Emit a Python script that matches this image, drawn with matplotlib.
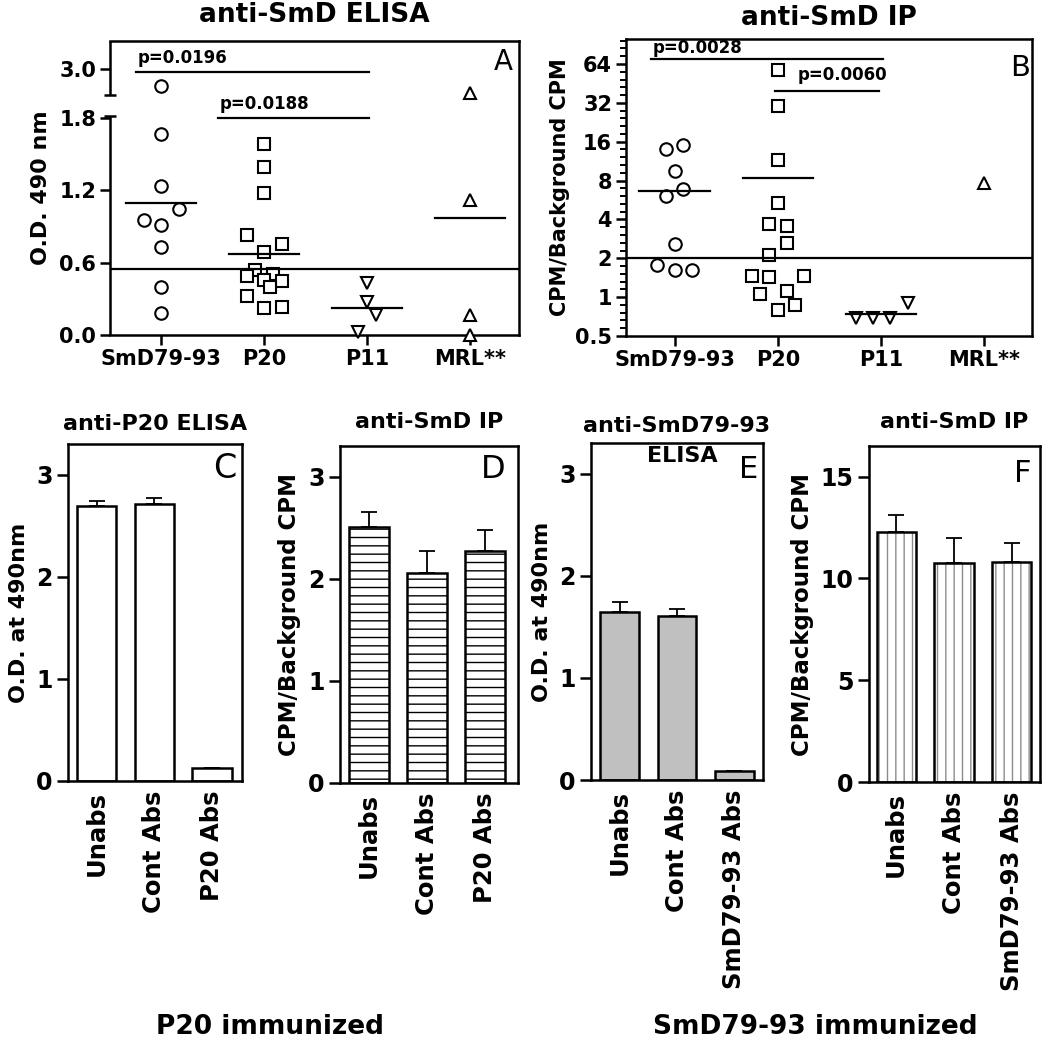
import numpy as np
import matplotlib
matplotlib.use('Agg')
import matplotlib.pyplot as plt
from matplotlib.ticker import FixedLocator, NullFormatter, FixedFormatter

plt.rcParams['font.family'] = ['DejaVu Sans']
plt.rcParams['font.weight'] = 'bold'
plt.rcParams['axes.titleweight'] = 'bold'
plt.rcParams['axes.labelweight'] = 'bold'
plt.rcParams['axes.linewidth'] = 1.8
plt.rcParams['hatch.linewidth'] = 1.0

# ---------------- data ----------------
groups = ['SmD79-93', 'P20', 'P11', 'MRL**']

# Panel A: anti-SmD ELISA (O.D. 490 nm)
elisa_smd = [2.70, 1.66, 1.234, 1.041, 0.953, 0.911, 0.726, 0.40, 0.18]
elisa_p20 = [1.582, 1.394, 1.174, 0.824, 0.751, 0.690, 0.541, 0.508, 0.486,
             0.456, 0.450, 0.398, 0.321, 0.221, 0.234]
elisa_p11 = [0.428, 0.276, 0.166, 0.028]
elisa_mrl = [2.574, 1.118, 0.166, 0.0]
elisa_cutoff = 0.544
elisa_pvals = ['p=0.0196', 'p=0.0188']
elisa_pbar_y = [2.95, 1.80]

# Panel B: anti-SmD IP (CPM/background CPM)
ip_smd = [14.1, 15.2, 9.5, 6.9, 6.1, 2.57, 1.77, 1.61, 1.61]
ip_p20 = [57.9, 30.4, 11.6, 5.4, 3.68, 3.53, 2.62, 2.11, 1.47, 1.42, 1.47,
          1.06, 1.12, 0.87, 0.80]
ip_p11 = [0.686, 0.686, 0.686, 0.896]
ip_mrl = [7.7]
ip_cutoff = 2.0
ip_pvals = ['p=0.0028', 'p=0.0060']
ip_pbar_y = [70.5, 39.8]

# Panels C-F
cond_p20 = ['Unabs', 'Cont Abs', 'P20 Abs']
cond_smd = ['Unabs', 'Cont Abs', 'SmD79-93 Abs']
c_vals = [2.69, 2.71, 0.13]
c_err = [0.055, 0.06, 0.0]
d_vals = [2.51, 2.06, 2.27]
d_err = [0.14, 0.21, 0.21]
e_vals = [1.643, 1.604, 0.091]
e_err = [0.104, 0.068, 0.0]
f_vals = [12.30, 10.77, 10.81]
f_err = [0.80, 1.23, 0.92]

# ---------------- layout helpers ----------------
W, H = 1050, 1039
fig = plt.figure(figsize=(W / 100, H / 100), dpi=100)


def rect(l, t, r, b):
    return [l / W, 1 - b / H, (r - l) / W, (b - t) / H]


# jitter offsets (in marker steps) for the column scatters
STEP = 0.17
jit_a = [[0, 0, 0, 1, -1, 0, 0, 0, 0],
         [0, 0, 0, -1, 1, 0, -0.5, 0.5, -1, 0, 1, 0.33, -1, 0, 1],
         [0, 0, 0.5, -0.5],
         [0, 0, 0, 0]]
jit_b = [[-0.5, 0.5, 0, 0.5, -0.5, 0, -1, 0, 1],
         [0, 0, 0, 0, -0.5, 0.5, 0.5, -0.5, -1.5, -0.5, 1.5, -1, 0.5, 1, 0],
         [-1.45, -0.48, 0.48, 1.5],
         [0]]
markers = ['o', 's', 'v', '^']
msizes = [9, 8.5, 8.5, 8.5]
MEAN_HW = 0.34
TICKFS = 15


def scatter_panel(ax, data, jit, cutoff, draw_mean):
    for i, (vals, off) in enumerate(zip(data, jit)):
        x = (i + 1) + np.array(off) * STEP
        ax.plot(x, vals, linestyle='none', marker=markers[i], ms=msizes[i],
                mfc='white', mec='black', mew=1.5, clip_on=False, zorder=3)
        if draw_mean[i]:
            m = np.mean(vals)
            ax.plot([i + 1 - MEAN_HW, i + 1 + MEAN_HW], [m, m], color='black',
                    lw=1.6, zorder=4)
    ax.axhline(cutoff, color='black', lw=1.6, zorder=4)
    ax.set_xticks(range(1, 5))
    ax.set_xticklabels(groups, fontsize=TICKFS)
    ax.tick_params(axis='both', length=7, width=1.8, labelsize=TICKFS, pad=3)


# ---------------- Panel A ----------------
axA = fig.add_axes(rect(110, 41, 519, 335))
lo_top, hi_bot, gap, hi_ratio = 1.81, 2.523, 0.174, 0.4606
xp = [-10.0, lo_top, hi_bot, 10.0]
dp = [-10.0, lo_top, lo_top + gap, lo_top + gap + (10.0 - hi_bot) * hi_ratio]


def fwd(y):
    return np.interp(y, xp, dp)


def inv(d):
    return np.interp(d, dp, xp)


axA.set_yscale('function', functions=(fwd, inv))
axA.set_ylim(0, 3.5)
axA.set_xlim(0.5, 4.48)
scatter_panel(axA, [elisa_smd, elisa_p20, elisa_p11, elisa_mrl], jit_a,
              elisa_cutoff, [True, True, True, True])
axA.yaxis.set_major_locator(FixedLocator([0.0, 0.6, 1.2, 1.8, 3.0]))
axA.yaxis.set_major_formatter(FixedFormatter(['0.0', '0.6', '1.2', '1.8', '3.0']))
axA.yaxis.set_minor_locator(FixedLocator([]))
axA.spines['left'].set_visible(False)
tr = axA.get_yaxis_transform()
axA.plot([0, 0], [0, lo_top], transform=tr, color='black', lw=1.8,
         clip_on=False, solid_capstyle='butt')
axA.plot([0, 0], [hi_bot, 3.5], transform=tr, color='black', lw=1.8,
         clip_on=False, solid_capstyle='butt')
axA.plot([0, 0], [lo_top, hi_bot], transform=tr, linestyle='none', marker='_',
         ms=8, mew=1.8, color='black', clip_on=False)
# significance bars
for (x0, x1, lx), y, txt in zip([(0.75, 3.02, 0.77), (1.55, 3.02, 1.57)],
                                elisa_pbar_y, elisa_pvals):
    axA.plot([x0, x1], [y, y], color='black', lw=1.6)
    axA.annotate(txt, (lx, y), xytext=(0, 3), textcoords='offset points',
                 ha='left', va='bottom', fontsize=12)
axA.set_ylabel('O.D. 490 nm', fontsize=16, labelpad=6)
axA.set_title('anti-SmD ELISA', fontsize=19, pad=14)
axA.text(0.985, 0.975, 'A', transform=axA.transAxes, ha='right', va='top',
         fontsize=20, fontweight='normal')

# ---------------- Panel B ----------------
axB = fig.add_axes(rect(626, 39, 1032, 336))
axB.set_yscale('log', base=2)
axB.set_ylim(0.5, 100)
axB.set_xlim(0.53, 4.46)
scatter_panel(axB, [ip_smd, ip_p20, ip_p11, ip_mrl], jit_b, ip_cutoff,
              [True, True, True, False])
bticks = [0.5, 1, 2, 4, 8, 16, 32, 64]
axB.yaxis.set_major_locator(FixedLocator(bticks))
axB.yaxis.set_major_formatter(FixedFormatter(['0.5', '1', '2', '4', '8', '16', '32', '64']))
minor = [2 ** (k + i / 5) for k in range(-1, 7) for i in range(1, 5)]
axB.yaxis.set_minor_locator(FixedLocator(minor))
axB.yaxis.set_minor_formatter(NullFormatter())
axB.tick_params(axis='y', which='minor', length=4, width=1.4)
for (x0, x1, lx), y, txt in zip([(0.77, 3.02, 0.79), (1.97, 2.98, 2.19)],
                                ip_pbar_y, ip_pvals):
    axB.plot([x0, x1], [y, y], color='black', lw=1.6)
axB.annotate(ip_pvals[0], (0.79, ip_pbar_y[0]), xytext=(0, 1),
             textcoords='offset points', ha='left', va='bottom', fontsize=12)
axB.annotate(ip_pvals[1], (2.19, ip_pbar_y[1]), xytext=(0, 5),
             textcoords='offset points', ha='left', va='bottom', fontsize=12)
axB.set_ylabel('CPM/Background CPM', fontsize=15, labelpad=4)
axB.set_title('anti-SmD IP', fontsize=19, pad=10)
axB.text(0.995, 0.95, 'B', transform=axB.transAxes, ha='right', va='top',
         fontsize=21, fontweight='normal')


# ---------------- Panels C-F ----------------
def bar_panel(ax, vals, err, labels, ylim, yticks, style):
    x = np.arange(len(vals))
    if style == 'white':
        ax.bar(x, vals, width=0.68, color='white', edgecolor='black', lw=1.8, zorder=2)
    elif style == 'hline':
        ax.bar(x, vals, width=0.68, color='white', edgecolor='black', lw=1.8,
               hatch='--', zorder=2)
    elif style == 'gray':
        ax.bar(x, vals, width=0.68, color='#c0c0c0', edgecolor='black', lw=1.8, zorder=2)
    elif style == 'vline':
        ax.bar(x, vals, width=0.68, color='white', edgecolor='#8c8c8c', lw=0,
               hatch='||', zorder=2)
        ax.bar(x, vals, width=0.68, color='none', edgecolor='black', lw=1.8, zorder=3)
    ax.errorbar(x, vals, yerr=[np.zeros(len(vals)), err], fmt='none',
                ecolor='black', elinewidth=1.3, capsize=6, capthick=1.3, zorder=1)
    ax.set_xlim(-0.5, 2.52)
    ax.set_ylim(*ylim)
    ax.set_yticks(yticks)
    ax.set_xticks(x)
    ax.set_xticklabels(labels, rotation=90, fontsize=17.5)
    ax.tick_params(axis='x', length=0, pad=7)
    ax.tick_params(axis='y', length=8, width=1.8, labelsize=17, pad=3)


axC = fig.add_axes(rect(68, 444, 242, 781))
bar_panel(axC, c_vals, c_err, cond_p20, (0, 3.3), [0, 1, 2, 3], 'white')
axC.set_ylabel('O.D. at 490nm', fontsize=16, labelpad=5)
axC.set_title('anti-P20 ELISA', fontsize=16, pad=10)
axC.text(0.97, 0.975, 'C', transform=axC.transAxes, ha='right', va='top',
         fontsize=24, fontweight='normal')

axD = fig.add_axes(rect(340, 446, 518, 783))
bar_panel(axD, d_vals, d_err, cond_p20, (0, 3.3), [0, 1, 2, 3], 'hline')
axD.set_xlim(-0.5, 2.57)
axD.set_ylabel('CPM/Background CPM', fontsize=16.5, labelpad=5)
axD.set_title('anti-SmD IP', fontsize=16, pad=13)
axD.text(0.93, 0.975, 'D', transform=axD.transAxes, ha='right', va='top',
         fontsize=23, fontweight='normal')

axE = fig.add_axes(rect(591, 443, 763, 780))
bar_panel(axE, e_vals, e_err, cond_smd, (0, 3.3), [0, 1, 2, 3], 'gray')
axE.set_xlim(-0.5, 2.5)
axE.set_ylabel('O.D. at 490nm', fontsize=16, labelpad=5)
axE.set_title('anti-SmD79-93', fontsize=16, pad=8)
axE.text(0.53, 0.99, 'ELISA', transform=axE.transAxes, ha='center', va='top',
         fontsize=16)
axE.text(0.97, 0.965, 'E', transform=axE.transAxes, ha='right', va='top',
         fontsize=22, fontweight='normal')

axF = fig.add_axes(rect(869, 446, 1040, 782))
bar_panel(axF, f_vals, f_err, cond_smd, (0, 16.5), [0, 5, 10, 15], 'vline')
axF.set_xlim(-0.47, 2.49)
axF.set_ylabel('CPM/Background CPM', fontsize=16.5, labelpad=5)
axF.set_title('anti-SmD IP', fontsize=16, pad=13)
axF.text(0.95, 0.96, 'F', transform=axF.transAxes, ha='right', va='top',
         fontsize=22, fontweight='normal')

fig.text(270 / W, 1 - 1034 / H, 'P20 immunized', ha='center', va='baseline',
         fontsize=19)
fig.text(815 / W, 1 - 1034 / H, 'SmD79-93 immunized', ha='center', va='baseline',
         fontsize=19)

fig.savefig('out.png', dpi=100)
